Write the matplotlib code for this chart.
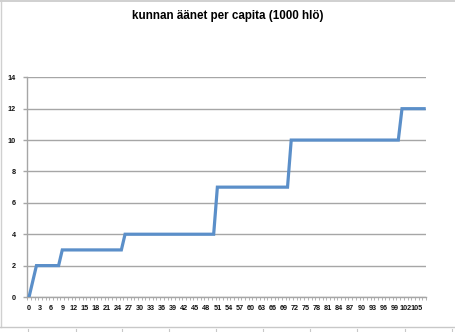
import numpy as np
import matplotlib
matplotlib.use("Agg")
import matplotlib.pyplot as plt
from matplotlib.lines import Line2D

# kategoriat 0..107 ja askelarvot (luettu kuvasta)
categories = list(range(108))
step_starts = [0, 1, 2, 9, 26, 51, 71, 101]
step_values = [0, 1, 2, 3, 4, 7, 10, 12]

values = []
for c in categories:
    v = 0
    for s, sv in zip(step_starts, step_values):
        if c >= s:
            v = sv
    values.append(v)

y_ticks = [0, 2, 4, 6, 8, 10, 12, 14]
x_labels = [str(c) for c in categories[::3]]

title = "kunnan äänet per capita (1000 hlö)"
line_color = "#5b8fc9"
grid_color = "#a6a6a6"

fig = plt.figure(figsize=(4.56, 3.32), dpi=100)
fig.patch.set_facecolor("white")

# taulukkolaskennan reunat ja solurajat
fig.add_artist(Line2D([0, 1], [0.997, 0.997], color="#c8c8c8", lw=1.2, transform=fig.transFigure))
fig.add_artist(Line2D([0.002, 0.002], [0.015, 1], color="#d0d0d0", lw=1.0, transform=fig.transFigure))
fig.add_artist(Line2D([0, 1], [1 - 327 / 332, 1 - 327 / 332], color="#c8c8c8", lw=1.0, transform=fig.transFigure))
for px in [28, 76, 122, 169, 216, 263, 310, 357, 405, 452]:
    fig.add_artist(Line2D([px / 456, px / 456], [0, 1 - 328.5 / 332], color="#c8c8c8", lw=0.8,
                          transform=fig.transFigure))

ax = fig.add_axes([27.2 / 456, 1 - 297 / 332, (426 - 27.2) / 456, (297 - 77.3) / 332])
ax.plot(categories, values, color=line_color, lw=2.3, solid_joinstyle="miter", zorder=3)

ax.set_xlim(-0.5, len(categories) - 0.5)
ax.set_ylim(0, 14)
ax.set_yticks(y_ticks)
ax.set_yticklabels([str(t) for t in y_ticks])
ax.set_xticks(categories[::3])
ax.set_xticklabels(x_labels)
ax.set_xticks(np.arange(-0.5, len(categories), 1), minor=True)

ax.yaxis.grid(True, color=grid_color, lw=1.0)
ax.set_axisbelow(True)
for sp in ["top", "right"]:
    ax.spines[sp].set_visible(False)
ax.spines["left"].set_color(grid_color)
ax.spines["bottom"].set_color(grid_color)
ax.spines["left"].set_linewidth(1.0)
ax.spines["bottom"].set_linewidth(1.0)

ax.tick_params(axis="x", which="major", length=0, pad=6, labelsize=5.2, labelcolor="#111111")
ax.tick_params(axis="x", which="minor", length=2.5, width=0.6, color=grid_color, direction="out")
ax.tick_params(axis="y", which="major", length=3, width=1.0, color=grid_color, pad=5,
               labelsize=5.2, labelcolor="#111111")
for lab in ax.get_xticklabels() + ax.get_yticklabels():
    lab.set_family("Liberation Sans")
    lab.set_fontweight("bold")

fig.text(0.5, 1 - 16.5 / 332, title, ha="center", va="center", fontsize=8.4,
         fontweight="bold", family="Liberation Sans", color="black")

fig.savefig("out.png", dpi=100, facecolor="white")
